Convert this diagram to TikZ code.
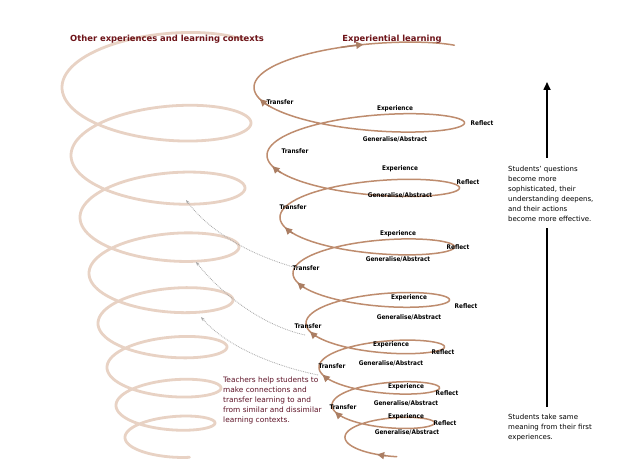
\documentclass[tikz,border=0pt]{standalone}
\usepackage{fontspec}
\setmainfont{DejaVu Sans}
\newfontfamily\condb{DejaVu Sans Condensed}
\usetikzlibrary{arrows.meta}
\definecolor{spir}{RGB}{190,140,110}
\definecolor{faint}{RGB}{232,210,196}
\definecolor{ttl}{RGB}{110,20,25}
\definecolor{teach}{RGB}{95,20,40}
\tikzset{
  lab/.style={font=\condb\bfseries\fontsize{6.4}{7}\selectfont, inner sep=0pt},
  ttlstyle/.style={font=\bfseries\fontsize{8.4}{9}\selectfont, text=ttl, inner sep=0pt},
  side/.style={font=\fontsize{7}{10}\selectfont, align=left, inner sep=0pt, anchor=north west},
  dotarrow/.style={gray!70, densely dotted, line width=0.8pt, -{Stealth[length=4pt,width=3pt]}},
  tip/.style={spir!90!black, line width=1.4pt, -{Triangle[length=7pt,width=7pt]}}
}
\begin{document}
\begin{tikzpicture}[x=1pt,y=-1pt]
\fill[white] (0,0) rectangle (639,473);
\useasboundingbox (0,0) rectangle (639,473);
% left faint spiral
\draw[faint, line width=2.8pt, line cap=round] plot[domain=-120:2670, samples=700, variable=\t]
 ({168.5-1.5*(\t/360)-(43.5+7.5*(\t/360))*cos(\t)}, {438-29*(\t/360+sin(\t)/6.2832)-3*(\t/360+sin(\t)/6.2832)^2-(8+2.2*(\t/360))*sin(\t)});
% right spiral
\draw[spir, line width=1.5pt, line cap=round] plot[domain=-100:2670, samples=700, variable=\t]
 ({388.5-4*(\t/360)-(43.5+9*(\t/360))*cos(\t)}, {438-29*(\t/360+sin(\t)/6.2832)-3*(\t/360+sin(\t)/6.2832)^2-(7+0.9*(\t/360))*sin(\t)});
% arrowheads along right spiral
\foreach \a in {-85,330,690,1050,1410,1770,2130,2490,2600}{
 \draw[tip] plot[domain=\a:\a+12, samples=5, variable=\t]
 ({388.5-4*(\t/360)-(43.5+9*(\t/360))*cos(\t)}, {438-29*(\t/360+sin(\t)/6.2832)-3*(\t/360+sin(\t)/6.2832)^2-(7+0.9*(\t/360))*sin(\t)});
}
% titles
\node[ttlstyle] (t1) at (167,39) {Other experiences and learning contexts};
\node[ttlstyle] (t2) at (392,39) {Experiential learning};
% labels
\foreach \x/\y/\nm in {343/407/a,332/366/b,308/326/c,306/268/d,293/207/e,295/151/f,280/102/g}
 \node[lab] (tr\nm) at (\x,\y) {Transfer};
\foreach \x/\y/\nm in {406/417/a,406/387/b,391/345/c,409/298/d,398/234/e,400/169/f,395/109/g}
 \node[lab] (ex\nm) at (\x,\y) {Experience};
\foreach \x/\y/\nm in {445/423/a,447/393/b,443/352/c,466/306/d,458/247/e,468/182/f,482/123/g}
 \node[lab] (re\nm) at (\x,\y) {Reflect};
\foreach \x/\y/\nm in {407/432/a,406/403/b,391/363/c,409/317/d,398/259/e,400/195/f,395/139/g}
 \node[lab] (ge\nm) at (\x,\y) {Generalise/Abstract};
% dotted arrows
\coordinate (d1s) at (297,268); \coordinate (d1e) at (186,200);
\coordinate (d2s) at (305,335); \coordinate (d2e) at (196,262);
\coordinate (d3s) at (318,375); \coordinate (d3e) at (201,317);
\draw[dotarrow] (d1s) .. controls (250,255) and (210,232) .. (d1e);
\draw[dotarrow] (d2s) .. controls (260,325) and (220,292) .. (d2e);
\draw[dotarrow] (d3s) .. controls (270,365) and (225,345) .. (d3e);
% teachers text
\node[side, text=teach, font=\fontsize{7.4}{9.8}\selectfont] (teach) at (223,377)
 {Teachers help students to\\make connections and\\transfer learning to and\\from similar and dissimilar\\learning contexts.};
% right side
\node[side] (q) at (508,166) {Students' questions\\become more\\sophisticated, their\\understanding deepens,\\and their actions\\become more effective.};
\node[side] (m) at (508,414) {Students take same\\meaning from their first\\experiences.};
\coordinate (alow) at (547,407);
\coordinate (amid) at (547,228);
\coordinate (aup) at (547,158);
\coordinate (atop) at (547,82);
\draw[line width=1.6pt] (alow) -- (amid);
\draw[line width=1.6pt, -{Triangle[length=8pt,width=7pt]}] (aup) -- (atop);
\end{tikzpicture}
\end{document}
